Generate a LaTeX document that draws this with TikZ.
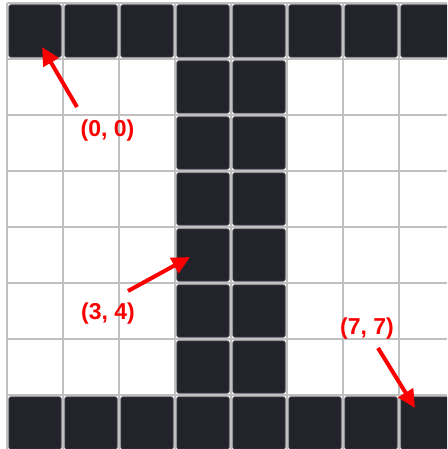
\documentclass[tikz,border=0pt]{standalone}
\usepackage{fontspec}
\setmainfont{Liberation Sans}
\newfontfamily\lblfont{Liberation Sans Bold}
\usetikzlibrary{arrows.meta}
\definecolor{cellink}{RGB}{34,35,43}
\definecolor{gridgray}{RGB}{192,192,192}
\definecolor{labelred}{RGB}{250,0,0}
\tikzset{
  gridline/.style={draw=gridgray, line width=1.5pt},
  ink/.style={rectangle, fill=cellink, draw=cellink!70!white, line width=0.6pt, rounded corners=2pt, minimum size=52.5pt, inner sep=0pt},
  lbl/.style={text=labelred, font=\lblfont\fontsize{23}{27}\selectfont, inner sep=0pt},
  redarrow/.style={draw=labelred, line width=4pt, -{Triangle[length=18pt,width=17pt]}}
}
\begin{document}
\begin{tikzpicture}[x=1pt,y=-1pt]
\useasboundingbox (0,0) rectangle (447,449);
\fill[white] (0,0) rectangle (447,449);
\begin{scope}
\clip (0,0) rectangle (447,449);
\foreach \k in {0,...,7} {
  \draw[gridline] ({7+56*\k},3) -- ({7+56*\k},449);
  \draw[gridline] (7,{3+56*\k}) -- (447,{3+56*\k});
}
\foreach \c in {0,...,7} {
  \node[ink] (cell-0-\c) at ({35+56*\c},31) {};
  \node[ink] (cell-7-\c) at ({35+56*\c},{31+56*7}) {};
}
\foreach \r in {1,...,6} {
  \node[ink] (cell-\r-3) at ({35+56*3},{31+56*\r}) {};
  \node[ink] (cell-\r-4) at ({35+56*4},{31+56*\r}) {};
}
\end{scope}
\node[lbl] (l00) at (107.5,131) {(0, 0)};
\node[lbl] (l34) at (108,314) {(3, 4)};
\node[lbl] (l77) at (367,329) {(7, 7)};
\coordinate (t00) at (77,107);
\coordinate (h00) at (42,47);
\coordinate (t34) at (128,291);
\coordinate (h34) at (190,257);
\coordinate (t77) at (378,348);
\coordinate (h77) at (415,408);
\draw[redarrow] (t00) -- (h00);
\draw[redarrow] (t34) -- (h34);
\draw[redarrow] (t77) -- (h77);
\end{tikzpicture}
\end{document}
